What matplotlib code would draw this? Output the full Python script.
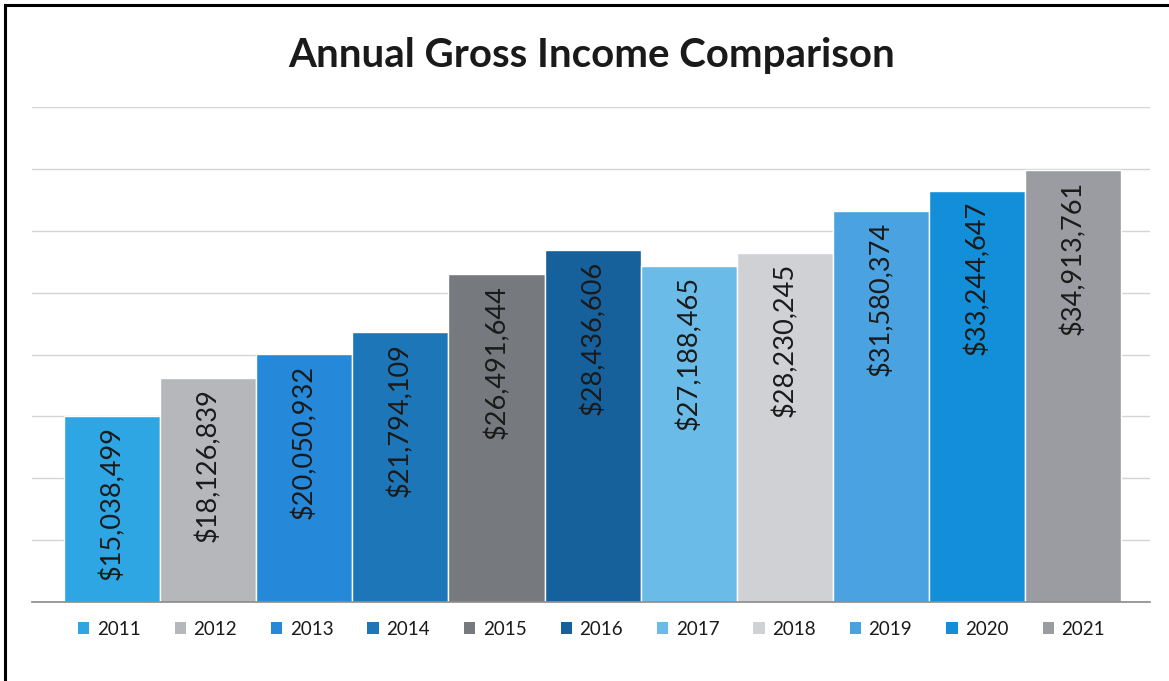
import numpy as np
import matplotlib
matplotlib.use('Agg')
import matplotlib.pyplot as plt
from matplotlib.patches import Patch
from matplotlib.lines import Line2D

# Chart data
years = ['2011', '2012', '2013', '2014', '2015', '2016', '2017', '2018', '2019', '2020', '2021']
income = [15038499, 18126839, 20050932, 21794109, 26491644, 28436606,
          27188465, 28230245, 31580374, 33244647, 34913761]
bar_colors = ['#2ea6e3', '#b5b7bb', '#2588d8', '#1c76b8', '#76797e', '#16609b',
              '#6bbbe9', '#cfd1d5', '#4aa3e0', '#138ed8', '#9a9ca1']
title = 'Annual Gross Income Comparison'

W, H = 1169, 681
fig = plt.figure(figsize=(W / 100, H / 100), dpi=100)
fig.patch.set_facecolor('white')

# axes placed in pixel terms
ax_left, ax_right, ax_bottom, ax_top = 32, 1150, 602, 107
ax = fig.add_axes([ax_left / W, (H - ax_bottom) / H,
                   (ax_right - ax_left) / W, (ax_bottom - ax_top) / H])

x = np.arange(len(years))
ax.bar(x, income, width=1.0, color=bar_colors, edgecolor='white', linewidth=1.0, zorder=2)

ax.set_ylim(0, 40000000)
ax.set_xlim(-0.833, 10.80)
ax.set_yticks(np.arange(0, 40000001, 5000000))
ax.yaxis.grid(True, color='#d4d4d4', linewidth=1.0, zorder=0)
ax.set_yticklabels([])
ax.set_xticks([])
ax.tick_params(left=False, bottom=False)
for s in ['top', 'right', 'left']:
    ax.spines[s].set_visible(False)
ax.spines['bottom'].set_color('#8a8a8a')
ax.spines['bottom'].set_linewidth(1.2)

# value labels, rotated, inside the top of each bar
offset = 850000
for xi, v in zip(x, income):
    ax.text(xi, v - offset, '${:,}'.format(v), rotation=90, ha='center', va='top',
            fontsize=19.5, family='Lato', color='#1a1a1a', zorder=3)

fig.text(592 / W, 1 - 55 / H, title, ha='center', va='center',
         fontsize=29, fontweight='bold', family='Lato', color='#1a1a1a')

handles = [Patch(facecolor=c, edgecolor='none') for c in bar_colors]
leg = ax.legend(handles, years, loc='center', ncol=11, mode='expand', frameon=False,
                bbox_to_anchor=((78 - ax_left) / (ax_right - ax_left), -0.055,
                                1027 / (ax_right - ax_left), 0.0),
                handlelength=0.6, handleheight=0.6, handletextpad=0.4,
                borderpad=0, borderaxespad=0,
                prop={'family': 'Lato', 'size': 13.5})
for t in leg.get_texts():
    t.set_color('#1a1a1a')

# frame of the scanned chart (left and top edges visible)
fig.add_artist(Line2D([5 / W, 5 / W], [0, 1 - 5 / H], color='black', linewidth=2.2))
fig.add_artist(Line2D([5 / W, 1], [1 - 5 / H, 1 - 5 / H], color='black', linewidth=2.2))

fig.savefig('out.png', dpi=100)
